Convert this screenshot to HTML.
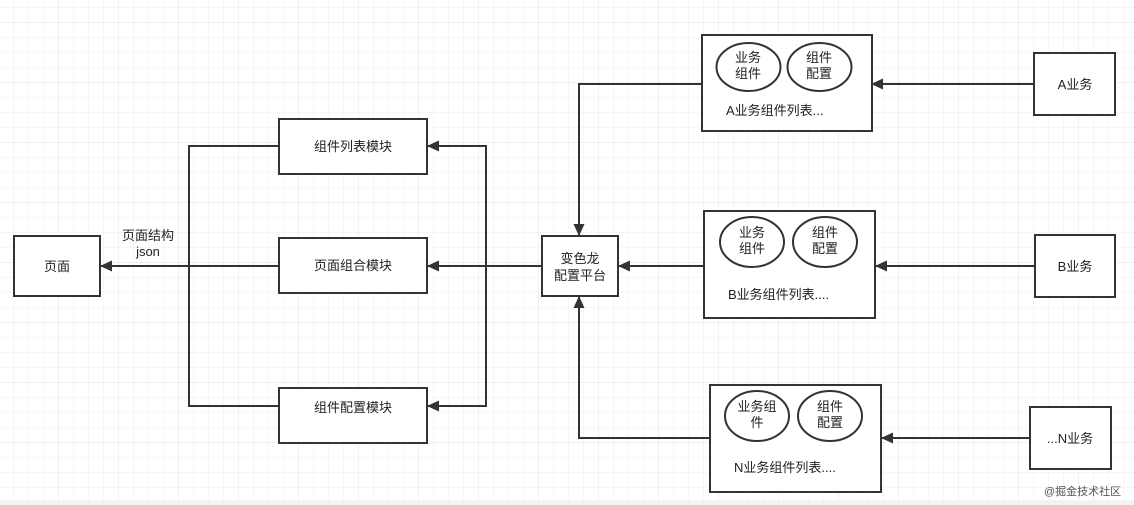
<!DOCTYPE html>
<html><head><meta charset="utf-8"><style>
html,body{margin:0;padding:0;background:#fff;}
svg{display:block;}
text{font-family:"Liberation Sans","Noto Sans CJK SC",sans-serif;font-size:13px;fill:#222;}
</style></head><body>
<svg width="1134" height="505" xmlns="http://www.w3.org/2000/svg">
<defs>
<pattern id="g" x="13" y="7" width="15" height="15" patternUnits="userSpaceOnUse">
<path d="M0 0H15M0 0V15" stroke="#ececec" stroke-width="1" fill="none"/>
</pattern>
<pattern id="G" x="58" y="22" width="60" height="60" patternUnits="userSpaceOnUse">
<path d="M0 0H60M0 0V60" stroke="#e0e0e0" stroke-width="1" fill="none"/>
</pattern>
<marker id="a" markerWidth="12" markerHeight="12" refX="11" refY="5.5" orient="auto" markerUnits="userSpaceOnUse">
<path d="M0 0L12 5.5L0 11z" fill="#333"/>
</marker>
</defs>
<rect width="1134" height="505" fill="url(#g)"/>
<rect width="1134" height="505" fill="url(#G)"/>
<rect y="500" width="1134" height="5" fill="#f3f3f3"/>
<g stroke="#333" stroke-width="2" fill="none">
<path d="M279 146H189V406H279"/>
<path d="M279 266H101" marker-end="url(#a)"/>
<path d="M542 266H428" marker-end="url(#a)"/>
<path d="M486 266V146H428" marker-end="url(#a)"/>
<path d="M486 266V406H428" marker-end="url(#a)"/>
<path d="M702 84H579V235" marker-end="url(#a)"/>
<path d="M704 266H619" marker-end="url(#a)"/>
<path d="M710 438H579V297" marker-end="url(#a)"/>
<path d="M1034 84H872" marker-end="url(#a)"/>
<path d="M1035 266H876" marker-end="url(#a)"/>
<path d="M1030 438H882" marker-end="url(#a)"/>
</g>
<g stroke="#333" stroke-width="2" fill="#fff">
<rect x="14" y="236" width="86" height="60"/>
<rect x="279" y="119" width="148" height="55"/>
<rect x="279" y="238" width="148" height="55"/>
<rect x="279" y="388" width="148" height="55"/>
<rect x="542" y="236" width="76" height="60"/>
<rect x="702" y="35" width="170" height="96"/>
<rect x="704" y="211" width="171" height="107"/>
<rect x="710" y="385" width="171" height="107"/>
<rect x="1034" y="53" width="81" height="62"/>
<rect x="1035" y="235" width="80" height="62"/>
<rect x="1030" y="407" width="81" height="62"/>
<ellipse cx="748.5" cy="67" rx="32" ry="24"/>
<ellipse cx="819.5" cy="67" rx="32" ry="24"/>
<ellipse cx="752" cy="242" rx="32" ry="25"/>
<ellipse cx="825" cy="242" rx="32" ry="25"/>
<ellipse cx="757" cy="416" rx="32" ry="25"/>
<ellipse cx="830" cy="416" rx="32" ry="25"/>
</g>
<g text-anchor="middle">
<text x="57" y="271">页面</text>
<text x="353" y="151">组件列表模块</text>
<text x="353" y="270">页面组合模块</text>
<text x="353" y="412">组件配置模块</text>
<text x="580" y="263">变色龙</text>
<text x="580" y="280">配置平台</text>
<text x="148" y="240">页面结构</text>
<text x="148" y="256">json</text>
<text x="748" y="62">业务</text><text x="748" y="78">组件</text>
<text x="819" y="62">组件</text><text x="819" y="78">配置</text>
<text x="752" y="237">业务</text><text x="752" y="253">组件</text>
<text x="825" y="237">组件</text><text x="825" y="253">配置</text>
<text x="757" y="411">业务组</text><text x="757" y="427">件</text>
<text x="830" y="411">组件</text><text x="830" y="427">配置</text>
<text x="1075" y="89">A业务</text>
<text x="1075" y="271">B业务</text>
<text x="1070" y="443">...N业务</text>
</g>
<text x="726" y="115">A业务组件列表...</text>
<text x="728" y="299">B业务组件列表....</text>
<text x="734" y="472">N业务组件列表....</text>
<text x="1044" y="495" style="font-size:11px;fill:#555">@掘金技术社区</text>
</svg>
</body></html>
